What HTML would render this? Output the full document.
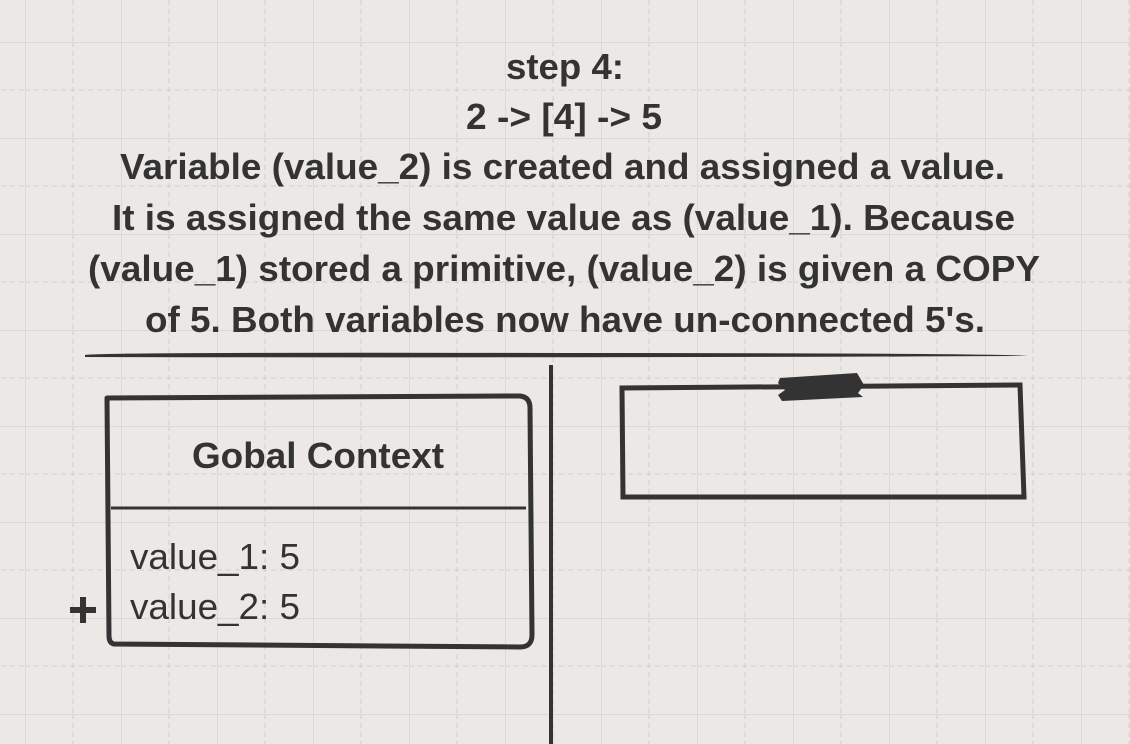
<!DOCTYPE html>
<html><head><meta charset="utf-8"><style>
html,body{margin:0;padding:0;width:1130px;height:744px;overflow:hidden;background:#ebe8e5}
svg{display:block}
text{font-family:"Liberation Sans",Arial,sans-serif;fill:#333}
</style></head><body>
<svg width="1130" height="744" viewBox="0 0 1130 744" xmlns="http://www.w3.org/2000/svg">
<defs>
<pattern id="g" x="25" y="42" width="96" height="96" patternUnits="userSpaceOnUse">
<line x1="0" y1="0" x2="96" y2="0" stroke="#d6d4d2" stroke-width="1.5"/>
<line x1="0" y1="0" x2="0" y2="96" stroke="#d6d4d2" stroke-width="1.5"/>
<line x1="0" y1="48" x2="96" y2="48" stroke="#d6d4d2" stroke-width="1.2" stroke-dasharray="5,4"/>
<line x1="48" y1="0" x2="48" y2="96" stroke="#d6d4d2" stroke-width="1.2" stroke-dasharray="5,4"/>
</pattern>
</defs>
<rect width="1130" height="744" fill="#ebe8e5"/>
<rect width="1130" height="744" fill="url(#g)"/>
<g font-size="36" font-weight="bold">
<text x="506" y="79" textLength="118" lengthAdjust="spacingAndGlyphs">step 4:</text>
<text x="466" y="129" textLength="196" lengthAdjust="spacingAndGlyphs">2 -&gt; [4] -&gt; 5</text>
<text x="120" y="179" textLength="885" lengthAdjust="spacingAndGlyphs">Variable (value_2) is created and assigned a value.</text>
<text x="112" y="230" textLength="903" lengthAdjust="spacingAndGlyphs">It is assigned the same value as (value_1). Because</text>
<text x="88" y="281" textLength="952" lengthAdjust="spacingAndGlyphs">(value_1) stored a primitive, (value_2) is given a COPY</text>
<text x="145" y="332" textLength="840" lengthAdjust="spacingAndGlyphs">of 5. Both variables now have un-connected 5's.</text>
</g>
<path d="M85,355 Q100,352 560,353 Q1000,353 1028,356 Q600,358 85,357 Z" fill="#333"/>
<line x1="551" y1="365" x2="551" y2="744" stroke="#333" stroke-width="4"/>
<path d="M107,398 L520,396 Q530,397 530,408 L532,635 Q532,647 520,647 L114,644 Q109,643 109,636 Z" fill="none" stroke="#333" stroke-width="5" stroke-linejoin="round"/>
<line x1="111" y1="508" x2="526" y2="508" stroke="#333" stroke-width="3"/>
<text x="192" y="468" font-size="36" font-weight="bold" textLength="252" lengthAdjust="spacingAndGlyphs">Gobal Context</text>
<text x="130" y="569" font-size="36" textLength="170" lengthAdjust="spacingAndGlyphs">value_1: 5</text>
<text x="130" y="619" font-size="36" textLength="170" lengthAdjust="spacingAndGlyphs">value_2: 5</text>
<path d="M70,610 h26 M83,597 v26" stroke="#333" stroke-width="6"/>
<path d="M622,388 L1020,385 L1024,497 L623,497 Z" fill="none" stroke="#333" stroke-width="5" stroke-linejoin="miter"/>
<path d="M780,378 L857,373 L864,385 L858,393 L863,397 L782,401 L778,395 L785,390 L778,383 Z" fill="#333"/>
</svg>
</body></html>
